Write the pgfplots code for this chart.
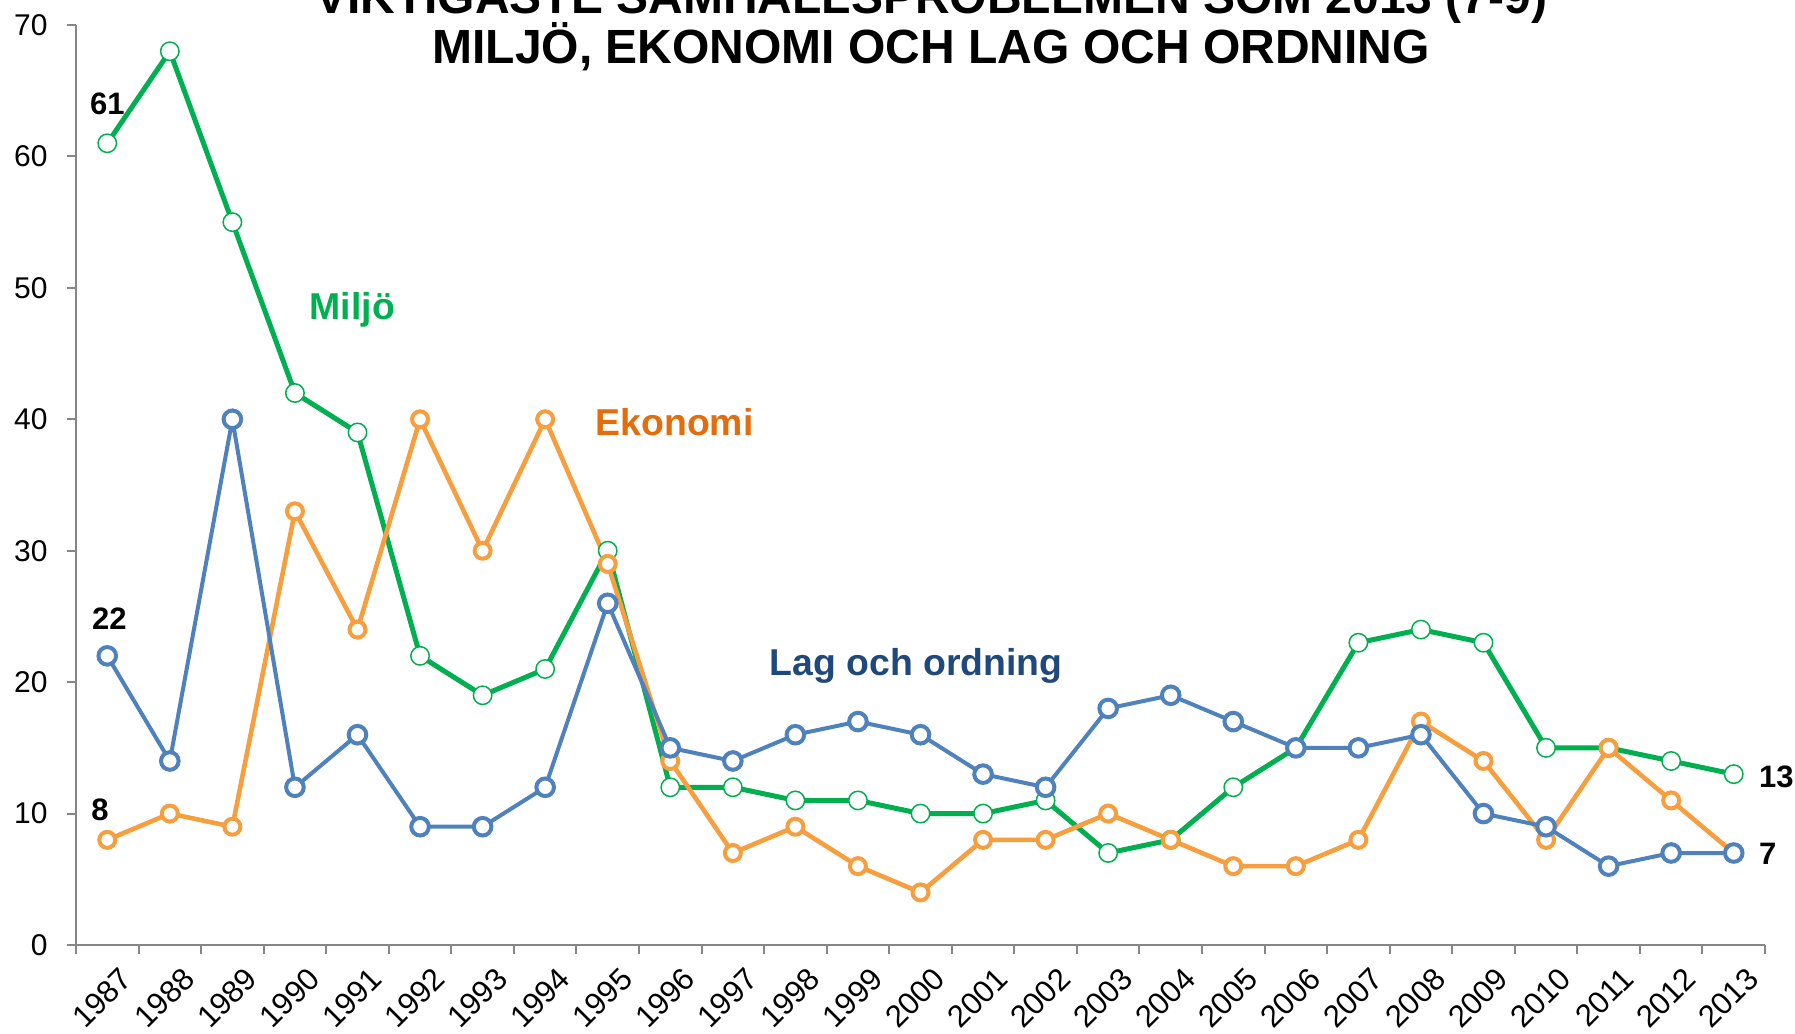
\documentclass[border=0pt]{standalone}
\usepackage{pgfplots}
\pgfplotsset{compat=1.18}
\usepackage{fontspec}
\setmainfont{Liberation Sans}
\definecolor{cgreen}{HTML}{00B050}
\definecolor{corange}{HTML}{F79E3E}
\definecolor{cblue}{HTML}{4F81BD}
\definecolor{torange}{HTML}{E46C0A}
\definecolor{tblue}{HTML}{1F497D}
\definecolor{axgray}{HTML}{868686}
\begin{document}
\begin{tikzpicture}
\begin{axis}[
  width=844.5pt, height=460pt, scale only axis,
  xmin=-0.5, xmax=26.5, ymin=0, ymax=70,
  axis x line*=bottom, axis y line*=left,
  axis line style={draw=axgray, line width=1pt},
  xtick={0,...,26},
  xticklabels={1987,1988,1989,1990,1991,1992,1993,1994,1995,1996,1997,1998,1999,2000,2001,2002,2003,2004,2005,2006,2007,2008,2009,2010,2011,2012,2013},
  minor xtick={-0.5,0.5,...,26.5},
  major x tick style={draw=none},
  minor x tick style={draw=axgray, line width=1pt},
  ytick={0,10,...,70},
  y tick style={draw=axgray, line width=1pt},
  xtick align=outside, ytick align=outside,
  major tick length=4.5pt, minor tick length=4.5pt,
  /pgf/number format/assume math mode=true,
  xticklabel style={font=\fontsize{15.5}{15.5}\selectfont, rotate=45, anchor=north east, inner sep=0pt, yshift=-8pt},
  yticklabel style={font=\fontsize{15}{15}\selectfont, anchor=east, inner sep=0pt, xshift=-9.5pt},
  clip=false,
]
\coordinate (O) at (rel axis cs:0,0);
\addplot[color=cgreen, line width=2.5pt, mark=*, mark size=4.6pt,
  mark options={fill=white, draw=cgreen, line width=0.75pt}] coordinates {
(0,61) (1,68) (2,55) (3,42) (4,39) (5,22) (6,19) (7,21) (8,30) (9,12) (10,12) (11,11) (12,11) (13,10) (14,10) (15,11) (16,7) (17,8) (18,12) (19,15) (20,23) (21,24) (22,23) (23,15) (24,15) (25,14) (26,13)};
\addplot[color=corange, line width=2.3pt, mark=*, mark size=4pt,
  mark options={fill=white, draw=corange, line width=2pt}] coordinates {
(0,8) (1,10) (2,9) (3,33) (4,24) (5,40) (6,30) (7,40) (8,29) (9,14) (10,7) (11,9) (12,6) (13,4) (14,8) (15,8) (16,10) (17,8) (18,6) (19,6) (20,8) (21,17) (22,14) (23,8) (24,15) (25,11) (26,7)};
\addplot[color=cblue, line width=2pt, mark=*, mark size=4.4pt,
  mark options={fill=white, draw=cblue, line width=2pt}] coordinates {
(0,22) (1,14) (2,40) (3,12) (4,16) (5,9) (6,9) (7,12) (8,26) (9,15) (10,14) (11,16) (12,17) (13,16) (14,13) (15,12) (16,18) (17,19) (18,17) (19,15) (20,15) (21,16) (22,10) (23,9) (24,6) (25,7) (26,7)};
% series labels
\node[anchor=base west, inner sep=0pt, text=cgreen, font=\bfseries\fontsize{18.7}{18.7}\selectfont] at (axis cs:3.23,47.6) {Miljö};
\node[anchor=base west, inner sep=0pt, text=torange, font=\bfseries\fontsize{18.7}{18.7}\selectfont] at (axis cs:7.80,38.74) {Ekonomi};
\node[anchor=base west, inner sep=0pt, text=tblue, font=\bfseries\fontsize{18.7}{18.7}\selectfont] at (axis cs:10.58,20.5) {Lag och ordning};
% data labels
\node[anchor=base west, inner sep=0pt, font=\bfseries\fontsize{15.5}{15.5}\selectfont] at (axis cs:-0.28,63.2) {61};
\node[anchor=base west, inner sep=0pt, font=\bfseries\fontsize{15.5}{15.5}\selectfont] at (axis cs:-0.25,24.0) {22};
\node[anchor=base west, inner sep=0pt, font=\bfseries\fontsize{15.5}{15.5}\selectfont] at (axis cs:-0.26,9.5) {8};
\node[anchor=base west, inner sep=0pt, font=\bfseries\fontsize{15.5}{15.5}\selectfont] at (axis cs:26.40,12.0) {13};
\node[anchor=base west, inner sep=0pt, font=\bfseries\fontsize{15.5}{15.5}\selectfont] at (axis cs:26.40,6.1) {7};
% title
\node[anchor=base, inner sep=0pt, font=\bfseries\fontsize{24}{24}\selectfont] at (axis cs:13.17,70.85) {VIKTIGASTE SAMHÄLLSPROBLEMEN SOM 2013 (7-9)};
\node[anchor=base, inner sep=0pt, font=\bfseries\fontsize{24}{24}\selectfont] at (axis cs:13.17,67.05) {MILJÖ, EKONOMI OCH LAG OCH ORDNING};
\end{axis}
\pgfresetboundingbox
\useasboundingbox ([xshift=-38pt, yshift=-44.5pt]O) rectangle ([xshift=859.5pt, yshift=472.5pt]O);
\end{tikzpicture}
\end{document}
